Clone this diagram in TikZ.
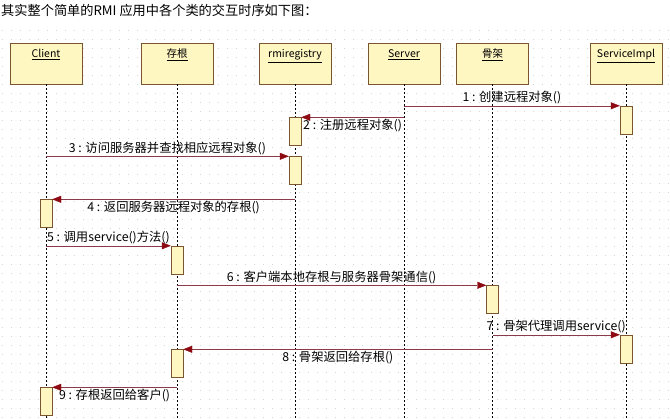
\documentclass[tikz,border=0pt]{standalone}
\usepackage{fontspec}
\setmainfont{Noto Sans CJK SC}
\usepackage{xcolor}
\usepackage{tikz}
\usetikzlibrary{arrows.meta, positioning}

\definecolor{boxfill}{HTML}{FFF7C2}
\definecolor{boxline}{HTML}{7A5530}
\definecolor{msgline}{HTML}{8A3A48}
\definecolor{msghead}{HTML}{8E0A12}
\definecolor{griddot}{HTML}{D6D6D6}

\begin{document}
\begin{tikzpicture}  [
        x=1pt, y=-1pt,
        obj/.style = {draw=boxline, fill=boxfill, minimum width=72pt, inner xsep=0pt,
                      inner ysep=0pt, text height=15pt, text depth=26pt,
                      font=\fontsize{10.5}{12}\selectfont},
        act/.style = {draw=boxline, fill=boxfill, minimum width=12pt, minimum height=28pt, inner sep=0pt},
        life/.style = {dash pattern=on 2pt off 2pt, semithick},
        msg/.style = {draw=msgline, -{Triangle[length=9pt,width=7pt,fill=msghead,color=msghead]}},
        lbl/.style = {font=\fontsize{12.3}{13}\selectfont, inner sep=1.5pt}
    ]

    \useasboundingbox (0,0) rectangle (670,419);

    % dotted background
    \foreach \y in {30,39,...,419}
        \draw[griddot, dash pattern=on 1pt off 8pt] (2,\y) -- (670,\y);

    \node[anchor=west, font=\fontsize{13.2}{15}\selectfont, inner sep=0pt] (title) at (1,10) {其实整个简单的RMI 应用中各个类的交互时序如下图：};

    \coordinate (bottom) at (0,419);

    % objects
    \node[obj] (client)   at (46,63.5)    {\underline{Client}};
    \node[obj] (stub)     at (177,63.5)   {\underline{存根}};
    \node[obj] (registry) at (295,63.5)   {\underline{rmiregistry}};
    \node[obj] (server)   at (404,63.5)   {\underline{Server}};
    \node[obj] (skel)     at (492.5,63.5) {\underline{骨架}};
    \node[obj] (impl)     at (626,63.5)   {\underline{ServiceImpl}};

    % lifelines
    \foreach \o in {client, stub, registry, server, skel, impl}
        \draw[life] (\o.south) -- (\o.south |- bottom);

    % activations
    \node[act] (implA)  at (impl.south |- 0,120)     {};
    \node[act] (regA)   at (registry.south |- 0,131.5) {};
    \node[act] (regB)   at (registry.south |- 0,170.5) {};
    \node[act] (cliA)   at (client.south |- 0,213.5)  {};
    \node[act] (stubA)  at (stub.south |- 0,260)      {};
    \node[act] (skelA)  at (skel.south |- 0,299.5)    {};
    \node[act] (implB)  at (impl.south |- 0,349)      {};
    \node[act] (stubB)  at (stub.south |- 0,363.5)    {};
    \node[act] (cliB)   at (client.south |- 0,401.5)  {};

    % messages
    \draw[msg] (server.south |- implA.north) -- (implA.north west)
        node[lbl, midway, above] {1 : 创建远程对象()};
    \draw[msg] (server.south |- regA.north) -- (regA.north east)
        node[lbl, midway, below] {2 : 注册远程对象()};
    \draw[msg] (client.south |- regB.north) -- (regB.north west)
        node[lbl, midway, above] {3 : 访问服务器并查找相应远程对象()};
    \draw[msg] (registry.south |- cliA.north) -- (cliA.north east)
        node[lbl, midway, below] {4 : 返回服务器远程对象的存根()};
    \draw[msg] (client.south |- stubA.north) -- (stubA.north west)
        node[lbl, midway, above] {5 : 调用service()方法()};
    \draw[msg] (stub.south |- skelA.north) -- (skelA.north west)
        node[lbl, midway, above] {6 : 客户端本地存根与服务器骨架通信()};
    \draw[msg] (skel.south |- implB.north) -- (implB.north west)
        node[lbl, midway, above] {7 : 骨架代理调用service()};
    \draw[msg] (skel.south |- stubB.north) -- (stubB.north east)
        node[lbl, midway, below] {8 : 骨架返回给存根()};
    \draw[msg] (stub.south |- cliB.north) -- (cliB.north east)
        node[lbl, midway, below] {9 : 存根返回给客户()};

\end{tikzpicture}
\end{document}
